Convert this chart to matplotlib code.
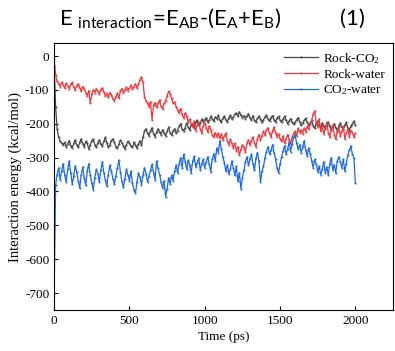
import numpy as np
import matplotlib
matplotlib.use('Agg')
import matplotlib.pyplot as plt

plt.rcParams['font.family'] = ['Liberation Serif', 'DejaVu Serif']
plt.rcParams['axes.unicode_minus'] = False

# time axis, every 10 ps
time = np.arange(0, 2001, 10)

rock_co2 = [
    -30, -150, -215, -240, -252, -258, -262, -255, -268, -260,
    -250, -265, -272, -258, -248, -262, -270, -255, -245, -260,
    -268, -252, -258, -275, -262, -250, -245, -262, -270, -256,
    -248, -260, -266, -252, -240, -258, -270, -262, -250, -245,
    -255, -268, -272, -260, -248, -256, -265, -274, -262, -252,
    -258, -266, -270, -255, -262, -272, -260, -250, -264, -240,
    -222, -215, -228, -235, -220, -212, -230, -238, -225, -215,
    -225, -232, -218, -228, -236, -222, -210, -226, -234, -220,
    -215, -228, -220, -208, -200, -215, -222, -212, -198, -210,
    -218, -205, -200, -212, -196, -190, -205, -198, -186, -195,
    -188, -182, -195, -190, -178, -186, -192, -180, -185, -175,
    -190, -196, -184, -178, -188, -194, -182, -175, -185, -180,
    -172, -168, -178, -165, -175, -182, -176, -185, -178, -170,
    -182, -188, -176, -190, -195, -184, -178, -186, -196, -188,
    -180, -175, -186, -192, -182, -176, -188, -195, -184, -178,
    -190, -196, -186, -178, -190, -200, -192, -185, -195, -202,
    -196, -188, -182, -194, -205, -198, -190, -184, -196, -204,
    -198, -190, -206, -214, -200, -192, -205, -212, -198, -206,
    -215, -204, -196, -208, -218, -210, -200, -212, -220, -206,
    -198, -210, -216, -204, -196, -212, -220, -208, -200, -192,
    -205]

rock_water = [
    -10, -55, -75, -82, -90, -78, -86, -95, -80, -88,
    -96, -84, -78, -92, -100, -88, -82, -94, -104, -90,
    -98, -108, -118, -102, -140, -112, -100, -108, -96, -104,
    -112, -100, -94, -106, -118, -110, -122, -108, -114, -126,
    -132, -120, -110, -124, -104, -96, -108, -100, -92, -102,
    -94, -86, -98, -90, -82, -94, -84, -70, -62, -78,
    -120, -132, -140, -150, -135, -188, -145, -138, -152, -140,
    -130, -148, -156, -140, -132, -118, -104, -112, -125, -140,
    -136, -150, -160, -168, -155, -172, -184, -168, -178, -195,
    -186, -200, -210, -192, -220, -205, -196, -215, -228, -206,
    -198, -212, -225, -206, -218, -232, -240, -226, -238, -228,
    -242, -230, -248, -236, -228, -250, -262, -246, -258, -272,
    -258, -280, -268, -292, -276, -262, -270, -284, -258, -248,
    -262, -250, -240, -256, -268, -244, -232, -248, -236, -222,
    -234, -218, -212, -228, -240, -222, -210, -226, -238, -230,
    -244, -252, -236, -258, -246, -232, -248, -260, -240, -228,
    -222, -236, -214, -226, -218, -230, -212, -224, -208, -216,
    -200, -190, -172, -162, -198, -210, -186, -222, -206, -230,
    -214, -196, -226, -240, -218, -204, -232, -246, -224, -210,
    -236, -222, -208, -244, -228, -214, -238, -220, -226, -240,
    -228]

co2_water = [
    -700, -380, -350, -330, -365, -340, -318, -352, -372, -335,
    -310, -345, -378, -355, -325, -342, -368, -390, -350, -328,
    -360, -382, -340, -318, -352, -376, -395, -360, -335, -348,
    -372, -338, -312, -345, -366, -384, -350, -322, -340, -362,
    -378, -355, -330, -308, -342, -370, -388, -362, -335, -352,
    -368, -340, -376, -395, -405, -372, -346, -358, -380, -352,
    -330, -348, -372, -355, -338, -320, -345, -365, -310, -332,
    -350, -372, -390, -368, -415, -392, -360, -378, -352, -368,
    -340, -322, -345, -318, -300, -330, -290, -312, -335, -308,
    -322, -345, -310, -296, -328, -315, -302, -336, -318, -305,
    -330, -312, -298, -320, -342, -305, -288, -310, -272, -285,
    -250, -275, -298, -315, -340, -322, -348, -335, -310, -330,
    -352, -325, -370, -345, -392, -360, -338, -312, -298, -322,
    -305, -290, -318, -338, -302, -285, -310, -372, -340, -325,
    -300, -282, -268, -290, -278, -262, -285, -305, -330, -345,
    -320, -298, -280, -265, -290, -275, -255, -282, -260, -240,
    -232, -258, -275, -262, -285, -270, -250, -278, -295, -272,
    -288, -310, -330, -305, -318, -342, -325, -350, -335, -312,
    -345, -328, -352, -318, -300, -336, -322, -345, -310, -298,
    -312, -330, -305, -340, -318, -292, -278, -265, -290, -300,
    -375]

fig = plt.figure(figsize=(3.95, 3.51), dpi=100)
ax = fig.add_axes([0.137, 0.117, 0.858, 0.76])

ax.plot(time, rock_co2, color='#474747', lw=0.9, marker='.', ms=1, label='Rock-CO$\\mathregular{_2}$')
ax.plot(time, rock_water, color='#e8393f', lw=0.9, marker='.', ms=1, label='Rock-water')
ax.plot(time, co2_water, color='#1f6ad8', lw=0.9, marker='.', ms=1, label='CO$\\mathregular{_2}$-water')

ax.set_xlim(0, 2250)
ax.set_ylim(-750, 38)
ax.set_xticks([0, 500, 1000, 1500, 2000])
ax.set_yticks([0, -100, -200, -300, -400, -500, -600, -700])
ax.tick_params(direction='in', length=3, labelsize=9.5, width=0.8)
ax.set_xlabel('Time (ps)', fontsize=9.5, labelpad=3)
ax.set_ylabel('Interaction energy (kcal/mol)', fontsize=10.5, labelpad=2)

ax.legend(loc='upper right', frameon=False, fontsize=9.5, handlelength=2.6,
          handletextpad=0.4, borderaxespad=0.2, labelspacing=0.2)

fig.text(0.15, 0.93, 'E $\\mathregular{_{interaction}}$=E$\\mathregular{_{AB}}$-(E$\\mathregular{_{A}}$+E$\\mathregular{_{B}}$)',
         fontsize=16, family='Lato', ha='left', va='baseline')
fig.text(0.86, 0.93, '(1)', fontsize=16, family='Lato', ha='left', va='baseline')

fig.savefig('out.png', dpi=100)
